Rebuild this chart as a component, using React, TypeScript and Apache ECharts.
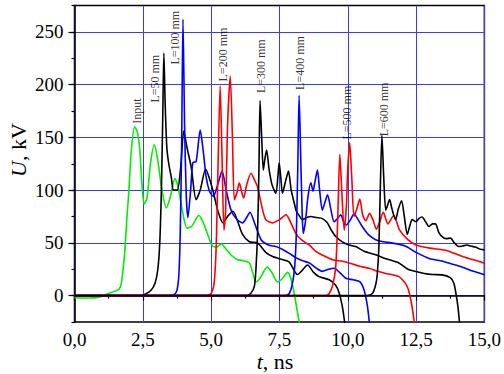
import React, { useEffect, useRef } from "react";
import * as echarts from "echarts";

const FONT = "'Liberation Serif', 'Times New Roman', serif";

const xTicks = [0, 2.5, 5, 7.5, 10, 12.5, 15];
const yTicks = [0, 50, 100, 150, 200, 250];

const inputCurve = [
  [0, -2], [0.5, -2.3], [0.9, -1.5], [1.2, 1.5], [1.5, 4.5], [1.62, 6], [1.7, 10], [1.78, 25], [1.85, 45],
  [1.92, 75], [1.98, 95], [2.08, 138], [2.2, 160], [2.3, 155], [2.39, 138], [2.47, 105], [2.55, 87], [2.65, 92],
  [2.78, 125], [2.92, 143], [3.05, 128], [3.2, 100], [3.36, 83], [3.5, 93], [3.68, 111], [3.8, 102], [3.95, 80],
  [4.12, 64], [4.3, 66], [4.55, 76], [4.7, 70], [4.9, 56], [5.05, 47], [5.2, 46], [5.37, 49], [5.55, 44],
  [5.75, 38], [5.97, 34], [6.2, 33], [6.4, 31], [6.52, 22], [6.64, 13], [6.8, 17], [7.05, 27], [7.2, 23],
  [7.43, 13], [7.6, 16], [7.8, 22], [7.92, 16], [8.04, 2], [8.24, -28],
];

const l50Curve = [
  [0, 0], [2.4, 0], [2.6, 1.5], [2.8, 5], [2.95, 12], [3.05, 25], [3.12, 50], [3.18, 100], [3.23, 170],
  [3.27, 230], [3.32, 180], [3.38, 140], [3.45, 125], [3.55, 111], [3.62, 100], [3.76, 100], [3.88, 120],
  [4.0, 156], [4.12, 140], [4.27, 122], [4.45, 91], [4.6, 100], [4.8, 120], [4.95, 110], [5.1, 96], [5.25, 80],
  [5.43, 69], [5.6, 75], [5.8, 80], [5.95, 72], [6.15, 58], [6.4, 51], [6.7, 50], [7.0, 41], [7.25, 37],
  [7.5, 35], [7.85, 32], [8.16, 20], [8.3, 23], [8.53, 29], [8.75, 22], [8.95, 18], [9.32, 15], [9.55, 10],
  [9.68, 3], [9.8, -10], [9.9, -28],
];

const l100Curve = [
  [0, 0], [3.5, 0], [3.65, 1], [3.75, 5], [3.82, 20], [3.87, 60], [3.92, 140], [3.97, 262], [4.03, 160],
  [4.09, 95], [4.15, 74], [4.25, 100], [4.33, 126], [4.45, 127], [4.6, 157], [4.72, 135], [4.82, 112],
  [4.94, 99], [5.08, 94], [5.25, 106], [5.4, 118], [5.55, 100], [5.73, 81], [5.95, 72], [6.15, 69], [6.3, 74],
  [6.42, 79], [6.6, 68], [6.83, 53], [7.1, 48], [7.37, 46.5], [7.6, 44], [7.86, 40], [8.1, 36], [8.35, 33],
  [8.59, 31], [8.85, 26], [9.07, 23], [9.3, 25], [9.5, 26], [9.7, 22], [9.93, 16.5], [10.2, 15], [10.45, 13],
  [10.6, 5], [10.72, -10], [10.8, -28],
];

const l200Curve = [
  [0, 0], [4.85, 0], [5.0, 2], [5.1, 10], [5.16, 30], [5.2, 60], [5.25, 120], [5.33, 199], [5.4, 130],
  [5.47, 62], [5.53, 80], [5.6, 160], [5.7, 208], [5.78, 150], [5.85, 91], [5.95, 98], [6.03, 107], [6.12, 98],
  [6.19, 92.5], [6.3, 105], [6.46, 116], [6.58, 110], [6.7, 103], [6.85, 85], [7.0, 72], [7.25, 69], [7.5, 72],
  [7.74, 76.6], [7.9, 70], [8.1, 59], [8.3, 53], [8.59, 48], [8.83, 42], [9.1, 38], [9.44, 34], [9.8, 32.5],
  [10.05, 31], [10.4, 28], [10.78, 26], [11.1, 23], [11.39, 21], [11.6, 20], [11.87, 18], [12.0, 15],
  [12.15, 10], [12.25, 3], [12.35, -10], [12.45, -28],
];

const l300Curve = [
  [0, 0], [6.3, 0], [6.45, 2], [6.58, 8.5], [6.64, 25], [6.7, 60], [6.75, 120], [6.79, 185], [6.85, 150],
  [6.91, 119], [6.97, 130], [7.03, 138], [7.12, 120], [7.23, 105], [7.37, 97], [7.45, 115], [7.49, 126],
  [7.55, 112], [7.61, 97], [7.72, 108], [7.83, 118], [7.93, 100], [8.04, 88], [8.12, 80], [8.22, 76],
  [8.34, 72], [8.5, 74], [8.65, 75], [8.85, 74], [9.07, 73], [9.25, 69], [9.4, 62], [9.56, 56], [9.8, 51],
  [10.05, 48], [10.29, 46.5], [10.6, 42], [11.02, 38.7], [11.4, 35], [11.87, 31], [12.2, 25], [12.48, 23],
  [12.8, 21], [13.1, 20], [13.45, 19.7], [13.75, 17], [13.88, 12], [13.96, 2], [14.03, -10], [14.1, -28],
];

const l400Curve = [
  [0, 0], [7.7, 0], [7.86, 2], [7.98, 12], [8.06, 28], [8.12, 60], [8.17, 120], [8.22, 190], [8.28, 130],
  [8.33, 80], [8.37, 59], [8.45, 70], [8.55, 95], [8.65, 107], [8.73, 99], [8.8, 108], [8.89, 119], [8.97, 100],
  [9.07, 81], [9.16, 88], [9.26, 95.6], [9.38, 82], [9.5, 70], [9.62, 73], [9.74, 76.6], [9.85, 70], [9.95, 67],
  [10.1, 72], [10.23, 77.6], [10.38, 72], [10.53, 65.5], [10.75, 58], [11.02, 53], [11.3, 51], [11.6, 50],
  [12.1, 47], [12.5, 41], [13.0, 35], [13.4, 33], [13.8, 30], [14.2, 27], [14.6, 23], [15, 19.7],
];

const l500Curve = [
  [0, 0], [9.2, 0], [9.32, 2], [9.45, 10], [9.56, 27.5], [9.63, 70], [9.71, 134], [9.78, 100], [9.87, 62],
  [9.95, 85], [10.0, 120], [10.07, 145], [10.15, 110], [10.23, 75], [10.33, 82], [10.44, 91.5], [10.55, 76],
  [10.66, 71], [10.8, 78], [10.92, 72], [11.05, 63], [11.17, 70], [11.3, 79], [11.47, 68], [11.68, 76],
  [11.9, 62], [12.2, 53], [12.5, 48], [13.0, 45], [13.58, 43], [14.2, 37], [14.6, 34], [15, 30.8],
];

const l600Curve = [
  [0, 0], [10.7, 0], [10.9, 2], [11.02, 10], [11.08, 20], [11.14, 46.5], [11.19, 100], [11.25, 152],
  [11.32, 110], [11.39, 81], [11.46, 86], [11.53, 91], [11.62, 82], [11.75, 72], [11.85, 82], [11.97, 90],
  [12.07, 75], [12.18, 58], [12.27, 66], [12.36, 72], [12.5, 70], [12.6, 73], [12.72, 74.5], [12.85, 70],
  [12.97, 65.5], [13.1, 68], [13.21, 68], [13.33, 60], [13.45, 56], [13.6, 54], [13.76, 54.5], [13.9, 50],
  [14.06, 46.5], [14.2, 47], [14.36, 48], [14.5, 47], [14.67, 46], [14.85, 44], [15, 43.4],
];

const seriesNames = ["Input", "L=50 mm", "L=100 mm", "L=200 mm", "L=300 mm", "L=400 mm", "L=500 mm", "L=600 mm"];
const seriesColors = ["#00ee00", "#000000", "#0000ff", "#ff0000", "#000000", "#0000ff", "#ff0000", "#000000"];
const seriesCurves = [inputCurve, l50Curve, l100Curve, l200Curve, l300Curve, l400Curve, l500Curve, l600Curve];

const labelT = [2.28, 2.95, 3.69, 5.45, 6.83, 8.25, 9.96, 11.31];
const labelV = [163, 183, 219, 203, 192, 195, 148, 151];

export default function App() {
  const ref = useRef<HTMLDivElement>(null);
  useEffect(() => {
    if (!ref.current) return;
    const chart = echarts.init(ref.current, undefined, { renderer: "svg" });
    const lineSeries = seriesCurves.map((c, i) => ({
      type: "line",
      name: seriesNames[i],
      data: c,
      showSymbol: false,
      smooth: 0.25,
      clip: true,
      lineStyle: { color: seriesColors[i], width: 1.6 },
      z: 3 + i,
    }));
    const labelSeries = {
      type: "scatter",
      symbolSize: 0,
      z: 20,
      data: labelT.map((t, i) => ({ value: [t, labelV[i]], name: seriesNames[i] })),
      label: {
        show: true,
        formatter: (p: any) => p.name,
        rotate: 90,
        position: "inside",
        align: "left",
        verticalAlign: "middle",
        color: "#000",
        fontFamily: FONT,
        fontSize: 12,
      },
      silent: true,
    };
    chart.setOption({
      animation: false,
      backgroundColor: "#fff",
      grid: {
        left: 74.5,
        right: 17.5,
        top: 5.5,
        bottom: 52,
        show: true,
        borderColor: "#000",
        borderWidth: 1.5,
      },
      xAxis: {
        type: "value",
        min: 0,
        max: 15,
        interval: 2.5,
        axisLine: { show: true, lineStyle: { color: "#000", width: 1.5 } },
        axisTick: { show: true, length: 5, lineStyle: { color: "#000", width: 1.2 } },
        minorTick: { show: true, splitNumber: 2, length: 3, lineStyle: { color: "#000", width: 1.2 } },
        splitLine: { show: true, lineStyle: { color: "#3a3aff", width: 1 } },
        axisLabel: {
          color: "#000",
          fontFamily: FONT,
          fontSize: 19,
          margin: 8,
          lineHeight: 19,
          formatter: (v: number) => v.toFixed(1).replace(".", ","),
        },
      },
      yAxis: [
        {
          type: "value",
          min: -25,
          max: 275,
          axisLine: { show: true, lineStyle: { color: "#000", width: 1.5 } },
          axisTick: { show: true, length: 6, customValues: yTicks, lineStyle: { color: "#000", width: 1.2 } },
          splitLine: { show: true, lineStyle: { color: "#3a3aff", width: 1 } },
          axisLabel: {
            customValues: yTicks,
            color: "#000",
            fontFamily: FONT,
            fontSize: 19,
            margin: 11,
          },
        },
        {
          type: "value",
          min: -25,
          max: 275,
          interval: 25,
          position: "left",
          axisLine: { show: false },
          axisTick: { show: true, length: 3, lineStyle: { color: "#000", width: 1.2 } },
          axisLabel: { show: false },
          splitLine: { show: false },
        },
      ],
      graphic: [
        {
          type: "text",
          x: 18.5,
          y: 150,
          rotation: Math.PI / 2,
          style: {
            text: "{i|U}, kV",
            fontFamily: FONT,
            fontSize: 22,
            fill: "#000",
            align: "center",
            verticalAlign: "middle",
            rich: { i: { fontStyle: "italic", fontFamily: FONT, fontSize: 22 } },
          },
        },
        {
          type: "text",
          x: 275,
          y: 361,
          style: {
            text: "{i|t}, ns",
            fontFamily: FONT,
            fontSize: 22,
            lineHeight: 20,
            fill: "#000",
            align: "center",
            verticalAlign: "middle",
            rich: { i: { fontStyle: "italic", fontFamily: FONT, fontSize: 22, lineHeight: 20 } },
          },
        },
      ],
      series: [...lineSeries, labelSeries],
    });
    return () => chart.dispose();
  }, []);
  return (
    <div
      ref={ref}
      style={{ position: "fixed", left: 0, top: 0, width: 504, height: 374, background: "#fff" }}
    />
  );
}
